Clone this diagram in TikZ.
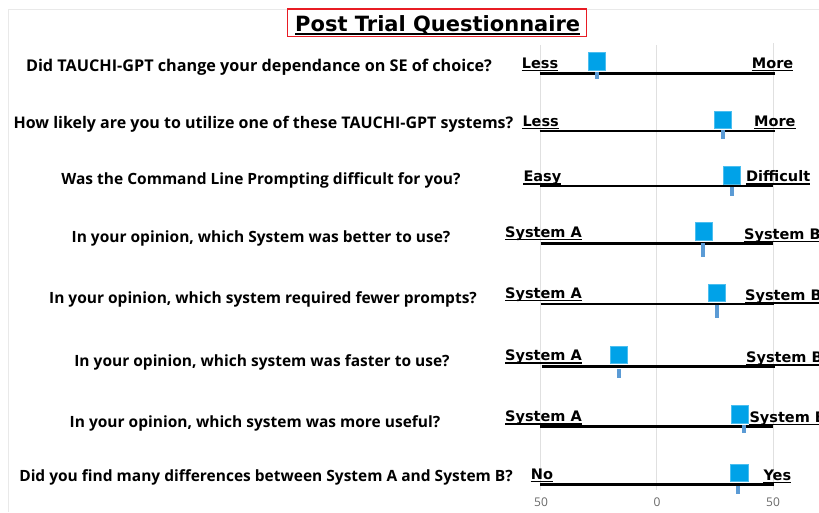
\documentclass[tikz,border=0pt]{standalone}
\usepackage{fontspec}
\setmainfont{Open Sans}
\newfontfamily\heavyfont{DejaVu Sans}

\definecolor{markerblue}{RGB}{0,162,232}
\definecolor{whiskerblue}{RGB}{91,155,213}
\definecolor{titlered}{RGB}{232,28,36}
\definecolor{gridgray}{RGB}{224,224,224}
\definecolor{ticklabel}{RGB}{105,105,105}

\tikzset{question/.style={font=\fontsize{15.5}{18}\selectfont\bfseries,anchor=base,inner sep=0pt},
scale label/.style={font=\heavyfont\fontsize{14.5}{17}\selectfont\bfseries,anchor=base west,inner sep=0pt},
label underline/.style={line width=1.3pt},
title/.style={font=\heavyfont\fontsize{21}{25}\selectfont\bfseries,anchor=base west,inner sep=0pt},
title box/.style={draw=titlered,line width=1.5pt},
scale line/.style={line width=2.6pt},
grid line/.style={draw=gridgray,line width=1pt},
frame line/.style={draw=gridgray!70,line width=0.8pt},
marker/.style={fill=markerblue,draw=markerblue!70,line width=0.5pt,minimum size=17.3pt,inner sep=0pt},
whisker/.style={fill=whiskerblue,minimum width=4pt,inner sep=0pt,anchor=north},
tick label/.style={font=\fontsize{12}{14}\selectfont,text=ticklabel,anchor=center}}

\begin{document}
\begin{tikzpicture}[x=1pt,y=-1pt]
\clip (0,0) rectangle (819,512);
\fill[white] (0,0) rectangle (819,512);

% scale: -50 at x=540.7, 0 at x=656.7, 50 at x=773.3 (2.33 per point)

%% Coordinates of the scale lines.
\coordinate (s1l) at (539.5,73.3);
\coordinate (s1r) at (775.0,73.3);
\coordinate (s2l) at (539.5,131.0);
\coordinate (s2r) at (775.0,131.0);
\coordinate (s3l) at (540.0,186.0);
\coordinate (s3r) at (773.0,186.0);
\coordinate (s4l) at (540.7,243.7);
\coordinate (s4r) at (772.7,243.7);
\coordinate (s5l) at (540.7,304.0);
\coordinate (s5r) at (774.0,304.0);
\coordinate (s6l) at (541.7,366.7);
\coordinate (s6r) at (775.0,366.7);
\coordinate (s7l) at (540.0,426.7);
\coordinate (s7r) at (773.3,426.7);
\coordinate (s8l) at (540.0,484.3);
\coordinate (s8r) at (774.0,484.3);

%% Coordinates of the frame and grid.
\coordinate (f0) at (8,9);
\coordinate (f1) at (819,9);
\coordinate (f2) at (8,512);
\coordinate (g1t) at (540.7,45);
\coordinate (g1b) at (540.7,490);
\coordinate (g2t) at (656.7,45);
\coordinate (g2b) at (656.7,490);
\coordinate (g3t) at (773.3,43);
\coordinate (g3b) at (773.3,490);

%% frame and grid lines
\draw [frame line] (f1) -- (f0) -- (f2);
\draw [grid line] (g1t) -- (g1b);
\draw [grid line] (g2t) -- (g2b);
\draw [grid line] (g3t) -- (g3b);

%% title
\node [title] (title) at (295,31.7) {Post Trial Questionnaire};
\draw [label underline,line width=1.8pt] ([yshift=-2.6pt]title.base west) -- ([yshift=-2.6pt]title.base east);
\draw [title box] (287.3,9) rectangle (586.7,36.7);

%% questions
\node [question,font=\fontsize{16.2}{19}\selectfont\bfseries] (q1) at (259.0,71.7) {Did TAUCHI-GPT change your dependance on SE of choice?};
\node [question,font=\fontsize{16}{19}\selectfont\bfseries] (q2) at (263.5,128.3) {How likely are you to utilize one of these TAUCHI-GPT systems?};
\node [question] (q3) at (261.0,184.0) {Was the Command Line Prompting difficult for you?};
\node [question] (q4) at (261.0,242.5) {In your opinion, which System was better to use?};
\node [question] (q5) at (263.0,303.5) {In your opinion, which system required fewer prompts?};
\node [question] (q6) at (262.0,366.0) {In your opinion, which system was faster to use?};
\node [question] (q7) at (255.0,427.0) {In your opinion, which system was more useful?};
\node [question] (q8) at (266.0,481.7) {Did you find many differences between System A and System B?};

%% scale lines
\draw [scale line] (s1l) -- (s1r);
\draw [scale line] (s2l) -- (s2r);
\draw [scale line] (s3l) -- (s3r);
\draw [scale line] (s4l) -- (s4r);
\draw [scale line] (s5l) -- (s5r);
\draw [scale line] (s6l) -- (s6r);
\draw [scale line] (s7l) -- (s7r);
\draw [scale line] (s8l) -- (s8r);

%% scale end labels
\node [scale label] (a1) at (521.7,68.3) {Less};
\node [scale label] (b1) at (751.7,68.3) {More};
\node [scale label] (a2) at (522.3,126.0) {Less};
\node [scale label] (b2) at (754.0,126.0) {More};
\node [scale label] (a3) at (523.3,181.7) {Easy};
\node [scale label] (b3) at (746.0,181.7) {Difficult};
\node [scale label] (a4) at (505.0,237.3) {System A};
\node [scale label] (b4) at (744.0,239.3) {System B};
\node [scale label] (a5) at (505.0,298.3) {System A};
\node [scale label] (b5) at (745.0,300.7) {System B};
\node [scale label] (a6) at (505.0,360.7) {System A};
\node [scale label] (b6) at (746.0,362.7) {System B};
\node [scale label] (a7) at (505.0,421.7) {System A};
\node [scale label] (b7) at (749.3,422.3) {System B};
\node [scale label] (a8) at (530.7,479.3) {No};
\node [scale label] (b8) at (763.3,480.0) {Yes};

%% label underlines
\foreach \n in {a1,b1,a2,b2,a3,b3,a4,b4,a5,b5,a6,b6,a7,b7,a8,b8}
  \draw [label underline] ([yshift=-2.4pt]\n.base west) -- ([yshift=-2.4pt]\n.base east);

%% whiskers below the lines
\node [whisker,minimum height=7pt] (w1) at (596.8,72.0) {};
\node [whisker,minimum height=9pt] (w2) at (723.2,129.3) {};
\node [whisker,minimum height=9pt] (w3) at (732.2,186.7) {};
\node [whisker,minimum height=14pt] (w4) at (703.0,242.7) {};
\node [whisker,minimum height=13pt] (w5) at (716.5,304.3) {};
\node [whisker,minimum height=9pt] (w6) at (618.7,368.3) {};
\node [whisker,minimum height=8pt] (w7) at (743.9,425.0) {};
\node [whisker,minimum height=8.5pt] (w8) at (738.3,485.7) {};

%% mean markers
\node [marker] (m1) at (597.0,61.3) {};
\node [marker] (m2) at (722.8,119.7) {};
\node [marker] (m3) at (731.8,175.3) {};
\node [marker] (m4) at (703.5,231.3) {};
\node [marker] (m5) at (716.8,292.8) {};
\node [marker] (m6) at (618.7,355.0) {};
\node [marker] (m7) at (739.5,414.2) {};
\node [marker] (m8) at (739.2,472.7) {};

%% axis tick labels
\node [tick label] (t1) at (541.0,501.7) {50};
\node [tick label] (t2) at (657.0,501.7) {0};
\node [tick label] (t3) at (773.0,501.7) {50};

\end{tikzpicture}
\end{document}
